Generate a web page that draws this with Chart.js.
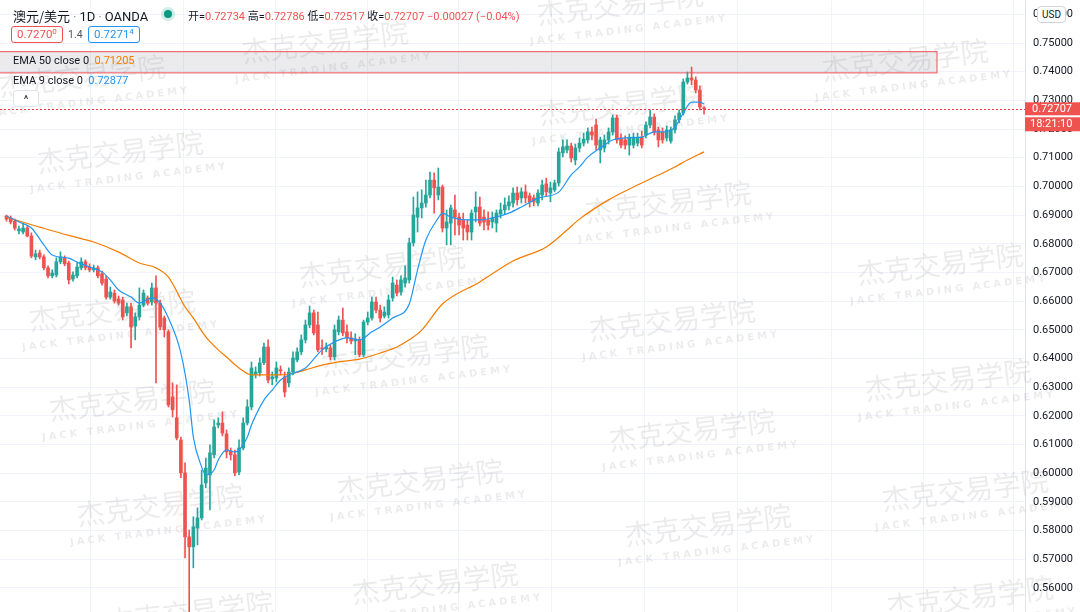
<!DOCTYPE html>
<html>
<head>
<meta charset="utf-8">
<script src="https://cdn.jsdelivr.net/npm/chart.js@4.4.1/dist/chart.umd.min.js"></script>
<style>
html, body { margin: 0; padding: 0; background: #fff; }
#wrap { position: relative; width: 1080px; height: 612px; overflow: hidden; font-family: Roboto, "Noto Sans CJK SC", sans-serif; }
#c { position: absolute; left: 0; top: 0; }
.hd { position: absolute; white-space: nowrap; color: #131722; }
.r { color: #ef5350; }
.sep { color: #9598a1; margin: 0 3px; }
.live { position: absolute; width: 8px; height: 8px; border-radius: 50%; background: #089981; box-shadow: 0 0 0 3px rgba(8,153,129,0.18); }
.box { position: absolute; height: 15px; line-height: 15px; padding: 0 5px; font-size: 11.5px; border-radius: 3px; background: #fff; }
.box sup { font-size: 8px; vertical-align: 4px; line-height: 0; }
.box.red { border: 1px solid #ef5350; color: #ef5350; }
.box.blue { border: 1px solid #2196f3; color: #2196f3; }
.btn { position: absolute; width: 24px; height: 15px; border: 1px solid #e0e3eb; border-radius: 3px; background: #fff; font-size: 11px; text-align: center; line-height: 17px; color: #131722; }
.usd { position: absolute; left: 1037px; top: 6px; width: 27px; height: 15px; line-height: 15px; border: 1px solid #d1d4dc; border-radius: 4px; background: #fff; font-size: 10px; text-align: center; color: #131722; }
</style>
</head>
<body>
<div id="wrap">
  <canvas id="c" width="1080" height="612"></canvas>
  <div class="hd" style="left:13px;top:6px;font-size:13px;"><span style="font-family:'Noto Sans CJK SC'">澳元/美元</span><span class="sep">·</span>1D<span class="sep">·</span>OANDA</div>
  <div class="live" style="left:164px;top:10px"></div>
  <div class="hd" style="left:188px;top:7px;font-size:11px;font-family:Roboto,'Noto Sans CJK SC',sans-serif;">开=<span class="r">0.72734</span> 高=<span class="r">0.72786</span> 低=<span class="r">0.72517</span> 收=<span class="r">0.72707</span> <span class="r">−0.00027 (−0.04%)</span></div>
  <div class="box red" style="left:11px;top:26px">0.7270<sup>0</sup></div>
  <div class="hd" style="left:68px;top:28px;font-size:10.5px;color:#50535e">1.4</div>
  <div class="box blue" style="left:88px;top:26px">0.7271<sup>4</sup></div>
  <div class="hd" style="left:13px;top:54px;font-size:11px;">EMA 50 close 0 &nbsp;<span style="color:#f57c00">0.71205</span></div>
  <div class="hd" style="left:13px;top:74px;font-size:11px;">EMA 9 close 0 &nbsp;<span style="color:#2196f3">0.72877</span></div>
  <div class="btn" style="left:13px;top:90px">^</div>
  <div class="usd">USD</div>
</div>
<script>
// daily AUD/USD candles, oldest first
const opens = [
  0.6897, 0.6890, 0.6879, 0.6845, 0.6841, 0.6855, 0.6827, 0.6754, 0.6768, 0.6754,
  0.6716, 0.6688, 0.6691, 0.6737, 0.6751, 0.6733, 0.6677, 0.6688, 0.6716, 0.6737,
  0.6719, 0.6709, 0.6716, 0.6695, 0.6677, 0.6614, 0.6628, 0.6607, 0.6604, 0.6559,
  0.6580, 0.6513, 0.6545, 0.6586, 0.6611, 0.6597, 0.6646, 0.6593, 0.6541, 0.6493,
  0.6266, 0.6193, 0.6116, 0.6001, 0.5778, 0.5743, 0.5809, 0.5844, 0.5966, 0.5994,
  0.6064, 0.6168, 0.6175, 0.6137, 0.6078, 0.6064, 0.6004, 0.6088, 0.6175, 0.6231,
  0.6346, 0.6350, 0.6385, 0.6440, 0.6329, 0.6332, 0.6360, 0.6336, 0.6315, 0.6353,
  0.6395, 0.6423, 0.6465, 0.6517, 0.6559, 0.6517, 0.6437, 0.6433, 0.6437, 0.6406,
  0.6493, 0.6534, 0.6493, 0.6472, 0.6461, 0.6465, 0.6413, 0.6527, 0.6541, 0.6597,
  0.6569, 0.6548, 0.6552, 0.6611, 0.6656, 0.6632, 0.6663, 0.6674, 0.6803, 0.6893,
  0.6925, 0.6942, 0.6970, 0.7022, 0.6970, 0.6998, 0.6855, 0.6872, 0.6918, 0.6893,
  0.6883, 0.6865, 0.6841, 0.6911, 0.6928, 0.6893, 0.6883, 0.6876, 0.6872, 0.6904,
  0.6918, 0.6932, 0.6942, 0.6977, 0.6960, 0.6981, 0.6967, 0.6960, 0.6942, 0.6970,
  0.7009, 0.6977, 0.6988, 0.7012, 0.7117, 0.7127, 0.7141, 0.7092, 0.7134, 0.7151,
  0.7162, 0.7190, 0.7214, 0.7127, 0.7134, 0.7162, 0.7190, 0.7239, 0.7169, 0.7162,
  0.7144, 0.7144, 0.7151, 0.7172, 0.7179, 0.7214, 0.7242, 0.7197, 0.7190, 0.7169,
  0.7158, 0.7197, 0.7232, 0.7256, 0.7364, 0.7378, 0.7371, 0.7336, 0.72734
];
const highs = [
  0.6900, 0.6897, 0.6886, 0.6862, 0.6869, 0.6862, 0.6838, 0.6778, 0.6778, 0.6761,
  0.6723, 0.6709, 0.6751, 0.6772, 0.6758, 0.6740, 0.6702, 0.6733, 0.6751, 0.6744,
  0.6730, 0.6726, 0.6723, 0.6705, 0.6688, 0.6649, 0.6639, 0.6618, 0.6614, 0.6593,
  0.6593, 0.6559, 0.6646, 0.6639, 0.6618, 0.6663, 0.6688, 0.6604, 0.6548, 0.6500,
  0.6315, 0.6308, 0.6126, 0.6036, 0.5802, 0.5848, 0.5879, 0.6011, 0.6053, 0.6099,
  0.6186, 0.6193, 0.6214, 0.6151, 0.6088, 0.6081, 0.6116, 0.6193, 0.6256, 0.6388,
  0.6371, 0.6402, 0.6454, 0.6465, 0.6353, 0.6388, 0.6374, 0.6353, 0.6367, 0.6423,
  0.6437, 0.6482, 0.6534, 0.6583, 0.6569, 0.6562, 0.6465, 0.6454, 0.6447, 0.6517,
  0.6548, 0.6576, 0.6517, 0.6493, 0.6486, 0.6475, 0.6534, 0.6562, 0.6614, 0.6614,
  0.6586, 0.6580, 0.6621, 0.6684, 0.6674, 0.6688, 0.6723, 0.6820, 0.6963, 0.6981,
  0.6988, 0.7022, 0.7050, 0.7047, 0.7064, 0.7005, 0.6918, 0.6935, 0.6970, 0.6907,
  0.6907, 0.6883, 0.6918, 0.6981, 0.6963, 0.6918, 0.6911, 0.6911, 0.6918, 0.6942,
  0.6960, 0.6967, 0.6995, 0.6998, 0.6995, 0.7005, 0.6977, 0.6970, 0.6988, 0.7022,
  0.7029, 0.7015, 0.7022, 0.7134, 0.7162, 0.7162, 0.7151, 0.7148, 0.7169, 0.7186,
  0.7204, 0.7207, 0.7235, 0.7172, 0.7179, 0.7204, 0.7249, 0.7249, 0.7183, 0.7176,
  0.7183, 0.7186, 0.7186, 0.7193, 0.7225, 0.7267, 0.7253, 0.7207, 0.7204, 0.7211,
  0.7207, 0.7246, 0.7267, 0.7375, 0.7399, 0.7416, 0.7382, 0.7350, 0.72786
];
const lows = [
  0.6879, 0.6869, 0.6848, 0.6834, 0.6834, 0.6824, 0.6751, 0.6744, 0.6747, 0.6709,
  0.6681, 0.6681, 0.6684, 0.6730, 0.6723, 0.6660, 0.6670, 0.6681, 0.6709, 0.6709,
  0.6702, 0.6702, 0.6681, 0.6656, 0.6607, 0.6607, 0.6593, 0.6586, 0.6534, 0.6548,
  0.6437, 0.6465, 0.6534, 0.6580, 0.6586, 0.6586, 0.6315, 0.6500, 0.6475, 0.6231,
  0.6196, 0.6116, 0.5984, 0.5705, 0.5506, 0.5670, 0.5750, 0.5837, 0.5949, 0.5872,
  0.6053, 0.6158, 0.6130, 0.6053, 0.6046, 0.5991, 0.5994, 0.6081, 0.6168, 0.6221,
  0.6332, 0.6339, 0.6378, 0.6315, 0.6308, 0.6318, 0.6343, 0.6266, 0.6301, 0.6343,
  0.6388, 0.6413, 0.6454, 0.6507, 0.6482, 0.6423, 0.6413, 0.6423, 0.6395, 0.6395,
  0.6482, 0.6479, 0.6454, 0.6451, 0.6413, 0.6406, 0.6406, 0.6517, 0.6534, 0.6559,
  0.6527, 0.6541, 0.6541, 0.6600, 0.6618, 0.6621, 0.6649, 0.6663, 0.6792, 0.6841,
  0.6890, 0.6928, 0.6960, 0.6907, 0.6953, 0.6841, 0.6796, 0.6796, 0.6831, 0.6831,
  0.6813, 0.6813, 0.6813, 0.6876, 0.6862, 0.6848, 0.6848, 0.6855, 0.6841, 0.6890,
  0.6904, 0.6918, 0.6928, 0.6935, 0.6942, 0.6942, 0.6928, 0.6932, 0.6932, 0.6953,
  0.6967, 0.6946, 0.6981, 0.7001, 0.7103, 0.7117, 0.7085, 0.7075, 0.7120, 0.7141,
  0.7151, 0.7162, 0.7127, 0.7082, 0.7120, 0.7148, 0.7179, 0.7151, 0.7134, 0.7130,
  0.7109, 0.7134, 0.7141, 0.7134, 0.7169, 0.7204, 0.7179, 0.7138, 0.7151, 0.7158,
  0.7151, 0.7186, 0.7221, 0.7249, 0.7357, 0.7354, 0.7326, 0.7267, 0.72517
];
const closes = [
  0.6886, 0.6876, 0.6855, 0.6852, 0.6855, 0.6827, 0.6757, 0.6765, 0.6754, 0.6716,
  0.6688, 0.6698, 0.6737, 0.6754, 0.6730, 0.6674, 0.6691, 0.6719, 0.6737, 0.6716,
  0.6709, 0.6716, 0.6688, 0.6663, 0.6614, 0.6632, 0.6600, 0.6593, 0.6545, 0.6580,
  0.6510, 0.6545, 0.6586, 0.6628, 0.6593, 0.6646, 0.6593, 0.6510, 0.6500, 0.6238,
  0.6221, 0.6123, 0.6001, 0.5778, 0.5743, 0.5813, 0.5844, 0.5959, 0.6018, 0.6071,
  0.6161, 0.6175, 0.6140, 0.6074, 0.6064, 0.6001, 0.6088, 0.6175, 0.6231, 0.6367,
  0.6353, 0.6385, 0.6440, 0.6325, 0.6336, 0.6367, 0.6357, 0.6283, 0.6353, 0.6402,
  0.6423, 0.6465, 0.6517, 0.6559, 0.6489, 0.6430, 0.6433, 0.6440, 0.6406, 0.6500,
  0.6534, 0.6489, 0.6472, 0.6461, 0.6468, 0.6413, 0.6527, 0.6541, 0.6597, 0.6569,
  0.6541, 0.6562, 0.6604, 0.6663, 0.6628, 0.6674, 0.6681, 0.6803, 0.6900, 0.6925,
  0.6942, 0.6970, 0.7022, 0.6995, 0.6998, 0.6855, 0.6876, 0.6925, 0.6893, 0.6865,
  0.6855, 0.6841, 0.6907, 0.6928, 0.6872, 0.6876, 0.6865, 0.6890, 0.6907, 0.6918,
  0.6935, 0.6946, 0.6977, 0.6953, 0.6981, 0.6960, 0.6946, 0.6946, 0.6977, 0.7005,
  0.6981, 0.6995, 0.7012, 0.7120, 0.7138, 0.7141, 0.7099, 0.7134, 0.7151, 0.7165,
  0.7190, 0.7179, 0.7144, 0.7162, 0.7162, 0.7190, 0.7239, 0.7162, 0.7144, 0.7144,
  0.7169, 0.7172, 0.7172, 0.7144, 0.7214, 0.7242, 0.7190, 0.7162, 0.7162, 0.7197,
  0.7197, 0.7232, 0.7256, 0.7364, 0.7378, 0.7371, 0.7336, 0.7277, 0.72707
];

// EMA lines: [candle index, value]
const ema50 = [
  [0, 0.6893], [4, 0.6875], [8, 0.6858], [15, 0.6829], [21, 0.6806], [27, 0.6771],
  [32, 0.6733], [36, 0.6716], [39, 0.6684], [43, 0.6580], [45, 0.6541], [48, 0.6475],
  [51, 0.6430], [53, 0.6405], [56, 0.6367], [59, 0.6343], [63, 0.6343], [66, 0.6343],
  [68, 0.6346], [72, 0.6360], [76, 0.6377], [80, 0.6388], [85, 0.6398], [90, 0.6419],
  [94, 0.6440], [97, 0.6465], [100, 0.6499], [105, 0.6590], [114, 0.6667], [122, 0.6740],
  [130, 0.6789], [135, 0.6848], [138, 0.6886], [145, 0.6953], [153, 0.7012], [161, 0.7068],
  [164, 0.7092], [168, 0.71205]
];
const ema9 = [
  [0, 0.6897], [3, 0.6876], [6, 0.6855], [9, 0.6796], [11, 0.6761], [15, 0.6750],
  [17, 0.6736], [20, 0.6719], [23, 0.6702], [25, 0.6674], [27, 0.6639], [30, 0.6614],
  [32, 0.6593], [35, 0.6611], [37, 0.6593], [39, 0.6541], [42, 0.6419], [44, 0.6255],
  [45, 0.6126], [47, 0.6022], [48, 0.5994], [50, 0.6011], [51, 0.6046], [53, 0.6081],
  [55, 0.6074], [56, 0.6081], [58, 0.6126], [59, 0.6168], [62, 0.6255], [64, 0.6290],
  [66, 0.6325], [68, 0.6343], [72, 0.6367], [76, 0.6430], [79, 0.6458], [82, 0.6472],
  [85, 0.6465], [88, 0.6493], [90, 0.6510], [93, 0.6541], [97, 0.6590], [99, 0.6709],
  [101, 0.6813], [104, 0.6890], [105, 0.6907], [107, 0.6893], [111, 0.6883], [114, 0.6883],
  [117, 0.6890], [121, 0.6907], [124, 0.6928], [128, 0.6959], [133, 0.6980], [136, 0.7040],
  [138, 0.7068], [140, 0.7102], [143, 0.7134], [146, 0.7162], [149, 0.7169], [153, 0.7172],
  [156, 0.7190], [158, 0.7190], [161, 0.7207], [163, 0.7256], [165, 0.7294], [167, 0.7294],
  [168, 0.72877]
];

// price axis ticks
const priceTicks = [0.56, 0.57, 0.58, 0.59, 0.60, 0.61, 0.62, 0.63, 0.64, 0.65,
  0.66, 0.67, 0.68, 0.69, 0.70, 0.71, 0.72, 0.73, 0.74, 0.75, 0.76];
// month separators (candle index)
const monthLines = [9, 31.4, 53.8, 76, 97.7, 120.1, 142.5, 164.6, 187.5, 209.9, 231.6];

// drawn supply zone
const zoneTop = 0.7470;
const zoneBottom = 0.7396;
const zoneEnd = 224.1;

const lastPrice = 0.72707;
const countdown = '18:21:10';

const upColor = '#26a69a';
const downColor = '#ef5350';

const bodies = opens.map((o, i) => ({ x: i, y: [o, closes[i]] }));
const wicks = lows.map((l, i) => ({ x: i, y: [l, highs[i]] }));
const candleColor = ctx => (closes[ctx.dataIndex] >= opens[ctx.dataIndex] ? upColor : downColor);

const watermarks = [
  [620, 4], [325, 42], [905, 60], [82, 76], [622, 104], [120, 152], [668, 202],
  [382, 266], [940, 264], [112, 310], [672, 320], [405, 355], [948, 380], [132, 400],
  [692, 430], [420, 480], [965, 490], [160, 505], [708, 525], [435, 583], [970, 597], [190, 612]
];

const overlay = {
  id: 'overlay',
  beforeDatasetsDraw(chart) {
    const { ctx, chartArea, scales } = chart;
    ctx.save();
    // watermark
    watermarks.forEach(([x, y]) => {
      ctx.save();
      ctx.translate(x, y);
      ctx.rotate(-0.12);
      ctx.textAlign = 'center';
      ctx.textBaseline = 'middle';
      ctx.fillStyle = 'rgba(0,0,0,0.08)';
      ctx.font = '28px "Noto Sans CJK SC"';
      ctx.fillText('杰克交易学院', 0, 0);
      ctx.font = 'bold 10px "DejaVu Sans"';
      ctx.letterSpacing = '3px';
      ctx.fillText('JACK TRADING ACADEMY', 6, 27);
      ctx.restore();
    });
    // zone rectangle
    const x0 = chartArea.left - 2;
    const x1 = scales.x.getPixelForValue(zoneEnd);
    const y0 = scales.y.getPixelForValue(zoneTop);
    const y1 = scales.y.getPixelForValue(zoneBottom);
    ctx.fillStyle = 'rgba(120,123,134,0.15)';
    ctx.fillRect(x0, y0, x1 - x0, y1 - y0);
    ctx.strokeStyle = '#ef6b73';
    ctx.lineWidth = 1.2;
    ctx.strokeRect(x0, y0, x1 - x0, y1 - y0);
    ctx.restore();
  },
  afterDatasetsDraw(chart) {
    const { ctx, chartArea, scales } = chart;
    const y = Math.round(scales.y.getPixelForValue(lastPrice)) + 0.5;
    ctx.save();
    ctx.strokeStyle = '#f23645';
    ctx.lineWidth = 1;
    ctx.setLineDash([2, 2]);
    ctx.beginPath();
    ctx.moveTo(chartArea.left, y);
    ctx.lineTo(chartArea.right, y);
    ctx.stroke();
    ctx.restore();
  },
  afterDraw(chart) {
    const { ctx, chartArea, scales } = chart;
    const y = scales.y.getPixelForValue(lastPrice);
    const x = chartArea.right;
    ctx.save();
    ctx.fillStyle = '#ef5350';
    ctx.fillRect(x, y - 6.5, 55, 13);
    ctx.fillRect(x, y + 8.5, 55, 14);
    ctx.fillStyle = '#fff';
    ctx.font = '11px Roboto';
    ctx.textBaseline = 'middle';
    ctx.fillText(lastPrice.toFixed(5), x + 7, y);
    ctx.fillText(countdown, x + 5, y + 15.5);
    ctx.restore();
  }
};

new Chart(document.getElementById('c'), {
  type: 'bar',
  data: {
    datasets: [
      { type: 'line', data: ema9.map(p => ({ x: p[0], y: p[1] })), borderColor: '#2196f3', borderWidth: 1.2,
        pointRadius: 0, cubicInterpolationMode: 'monotone', order: 1 },
      { type: 'line', data: ema50.map(p => ({ x: p[0], y: p[1] })), borderColor: '#f57c00', borderWidth: 1.2,
        pointRadius: 0, cubicInterpolationMode: 'monotone', order: 1 },
      { data: bodies, backgroundColor: candleColor, barThickness: 3, minBarLength: 1, grouped: false, order: 2 },
      { data: wicks, backgroundColor: candleColor, barThickness: 1, grouped: false, order: 3 }
    ]
  },
  options: {
    responsive: false,
    devicePixelRatio: 1,
    animation: false,
    layout: { padding: 0 },
    plugins: { legend: { display: false }, tooltip: { enabled: false } },
    scales: {
      x: {
        type: 'linear', min: -1.566, max: 245.3, offset: false,
        grid: { color: '#f0f3fa', drawTicks: false },
        border: { display: false },
        ticks: { display: false },
        afterBuildTicks: s => { s.ticks = monthLines.map(v => ({ value: v })); },
        afterFit: s => { s.height = 0; s.paddingLeft = 0; s.paddingRight = 0; }
      },
      y: {
        position: 'right', min: 0.5516, max: 0.7650,
        grid: { color: '#f0f3fa', drawTicks: false },
        border: { display: true, color: '#e0e3eb' },
        ticks: { color: '#131722', font: { size: 11, family: 'Roboto' }, padding: 8,
          callback: v => v.toFixed(5) },
        afterBuildTicks: s => { s.ticks = priceTicks.map(v => ({ value: v })); },
        afterFit: s => { s.width = 55; s.paddingTop = 0; s.paddingBottom = 0; }
      }
    }
  },
  plugins: [overlay]
});
</script>
</body>
</html>
